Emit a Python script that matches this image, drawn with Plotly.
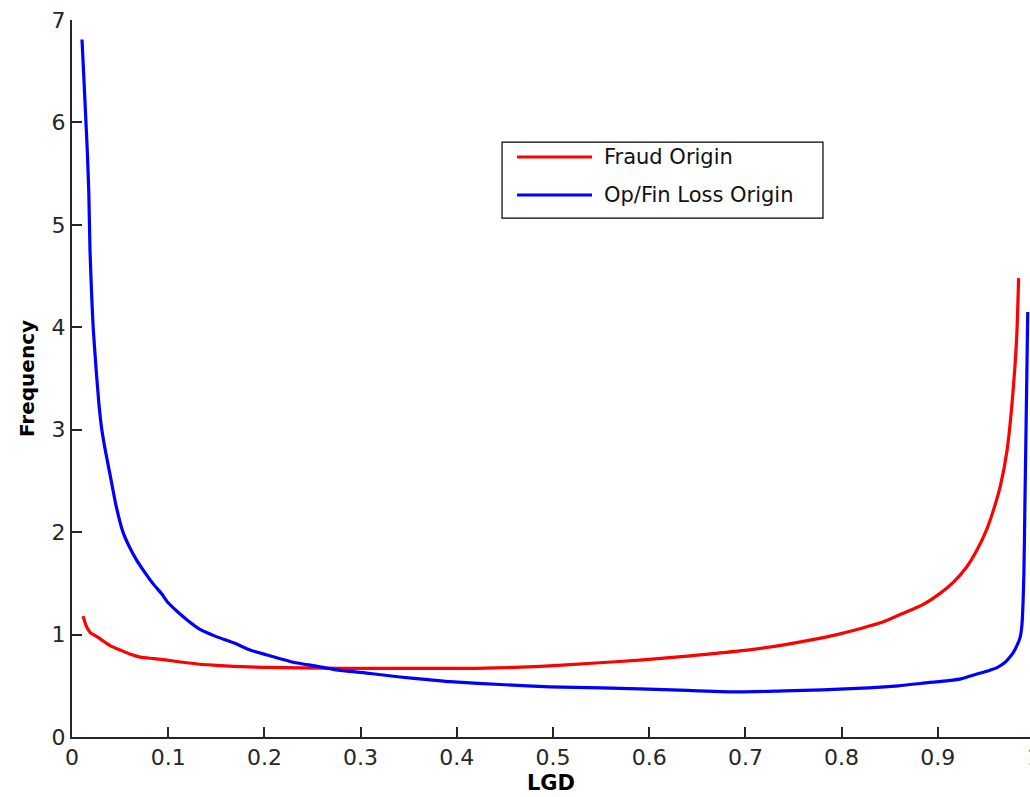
import plotly.graph_objects as go

# LGD values and frequencies
fraud_x = [0.0115, 0.015, 0.019, 0.024, 0.029, 0.035, 0.040, 0.050, 0.060, 0.071,
           0.085, 0.099, 0.115, 0.133, 0.150, 0.168, 0.200, 0.240, 0.280, 0.350,
           0.420, 0.460, 0.487, 0.540, 0.590, 0.640, 0.694, 0.740, 0.770, 0.795,
           0.820, 0.842, 0.862, 0.884, 0.902, 0.916, 0.930, 0.941, 0.951, 0.958,
           0.965, 0.972, 0.978, 0.982, 0.984]
fraud_y = [1.18, 1.08, 1.02, 0.99, 0.96, 0.92, 0.89, 0.85, 0.81, 0.78,
           0.765, 0.75, 0.73, 0.71, 0.70, 0.69, 0.68, 0.675, 0.67, 0.67,
           0.67, 0.68, 0.69, 0.72, 0.75, 0.79, 0.84, 0.90, 0.95, 1.00,
           1.06, 1.12, 1.20, 1.29, 1.40, 1.51, 1.66, 1.83, 2.03, 2.22,
           2.45, 2.80, 3.35, 3.90, 4.48]

opfin_x = [0.0104, 0.012, 0.014, 0.016, 0.0175, 0.0187, 0.0205, 0.022, 0.025, 0.028,
           0.031, 0.035, 0.040, 0.046, 0.053, 0.060, 0.067, 0.074, 0.084, 0.093,
           0.100, 0.110, 0.120, 0.133, 0.150, 0.168, 0.185, 0.203, 0.230, 0.255,
           0.279, 0.310, 0.341, 0.370, 0.393, 0.450, 0.497, 0.550, 0.590, 0.640,
           0.694, 0.740, 0.780, 0.828, 0.859, 0.890, 0.911, 0.925, 0.939, 0.952,
           0.962, 0.970, 0.975, 0.980, 0.9855, 0.9875, 0.9895, 0.9905, 0.9915, 0.9925,
           0.9935]
opfin_y = [6.81, 6.50, 6.10, 5.70, 5.30, 4.75, 4.30, 4.00, 3.60, 3.25,
           3.00, 2.78, 2.54, 2.25, 2.00, 1.85, 1.73, 1.63, 1.50, 1.40,
           1.31, 1.22, 1.14, 1.05, 0.98, 0.92, 0.85, 0.80, 0.73, 0.69,
           0.65, 0.62, 0.586, 0.56, 0.54, 0.51, 0.49, 0.48, 0.47, 0.455,
           0.44, 0.45, 0.46, 0.48, 0.50, 0.53, 0.55, 0.57, 0.61, 0.645,
           0.68, 0.73, 0.78, 0.85, 0.97, 1.10, 1.60, 2.24, 2.87, 3.52,
           4.15]

series_names = ["Fraud Origin", "Op/Fin Loss Origin"]
series_colors = ["#ff0000", "#0000ff"]

x_ticks = [0, 0.1, 0.2, 0.3, 0.4, 0.5, 0.6, 0.7, 0.8, 0.9]
x_ticktext = ["0", "0.1", "0.2", "0.3", "0.4", "0.5", "0.6", "0.7", "0.8", "0.9"]
y_ticks = [0, 1, 2, 3, 4, 5, 6, 7]

FONT = "DejaVu Sans, Liberation Sans, Arial, sans-serif"
AXC = "#262626"
TXC = "#262626"

fig = go.Figure()
for xs, ys, name, col in [(fraud_x, fraud_y, series_names[0], series_colors[0]),
                          (opfin_x, opfin_y, series_names[1], series_colors[1])]:
    fig.add_trace(go.Scatter(x=xs, y=ys, mode="lines", name=name,
                             line=dict(color=col, width=3.2, shape="spline", smoothing=0.6),
                             showlegend=False))

# manual MATLAB-style legend
L_x0, L_x1, L_y0, L_y1 = 0.4489, 0.7839, 0.7238, 0.8298
fig.add_shape(type="rect", xref="paper", yref="paper", x0=L_x0, x1=L_x1, y0=L_y0, y1=L_y1,
              line=dict(color="#000000", width=1.2), fillcolor="white", layer="above")
for yy, name, col in [(0.8089, series_names[0], series_colors[0]),
                      (0.7559, series_names[1], series_colors[1])]:
    fig.add_shape(type="line", xref="paper", yref="paper", x0=0.4645, x1=0.5428, y0=yy, y1=yy,
                  line=dict(color=col, width=3), layer="above")
    fig.add_annotation(xref="paper", yref="paper", x=0.5532, y=yy, text=name, showarrow=False,
                       xanchor="left", yanchor="middle",
                       font=dict(family=FONT, size=21, color="#111111"))

# partially visible "1" tick label at the clipped right edge
fig.add_annotation(xref="paper", yref="paper", x=(1034 - 72) / 958, y=0, yshift=-20,
                   text="1", showarrow=False, xanchor="center", yanchor="middle",
                   font=dict(family=FONT, size=22, color=TXC))

fig.update_layout(
    width=1030, height=797,
    margin=dict(l=72, r=0, t=20, b=60),
    paper_bgcolor="white", plot_bgcolor="white",
    showlegend=False,
    font=dict(family=FONT, color=TXC),
    xaxis=dict(range=[0, 958 / 962], tickvals=x_ticks, ticktext=x_ticktext,
               ticks="inside", ticklen=10, tickwidth=1.5, tickcolor=AXC,
               showline=True, linecolor=AXC, linewidth=2, mirror=False,
               showgrid=False, zeroline=False,
               tickfont=dict(family=FONT, size=22, color=TXC),
               title=dict(text="<b>LGD</b>", font=dict(family=FONT, size=21, color="#000000"),
                          standoff=6)),
    yaxis=dict(range=[0, 7], tickvals=y_ticks,
               ticks="inside", ticklen=10, tickwidth=1.5, tickcolor=AXC,
               showline=True, linecolor=AXC, linewidth=2, mirror=False,
               showgrid=False, zeroline=False,
               tickfont=dict(family=FONT, size=22, color=TXC),
               title=dict(text="<b>Frequency</b>", font=dict(family=FONT, size=20, color="#000000"),
                          standoff=12)),
)

fig.write_html("out.html")
